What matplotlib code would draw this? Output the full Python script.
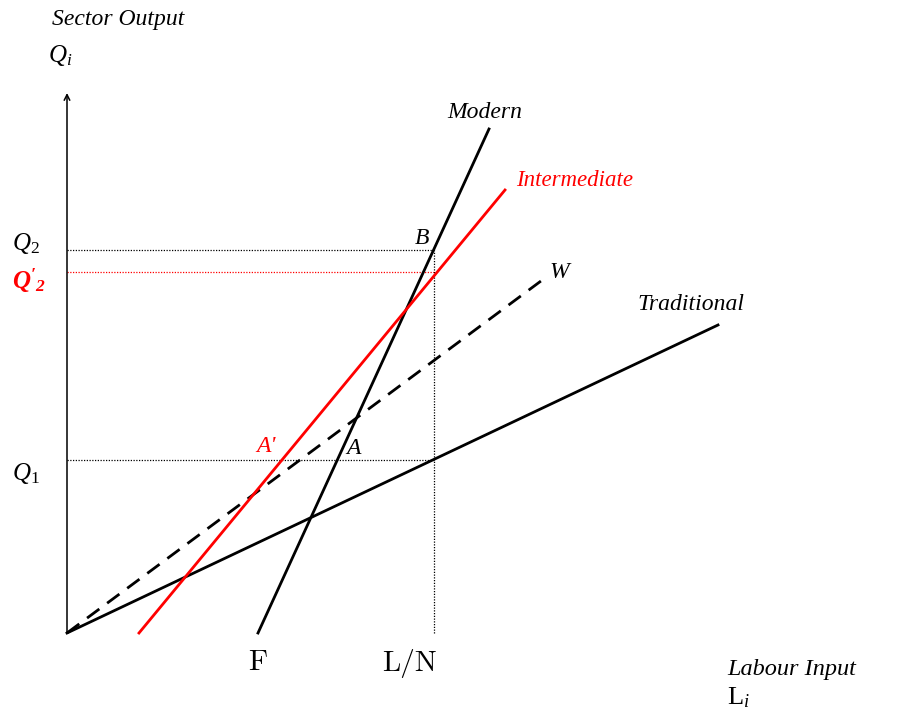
import matplotlib
matplotlib.use("Agg")
import matplotlib.pyplot as plt

plt.rcParams['mathtext.fontset'] = 'custom'
plt.rcParams['mathtext.rm'] = 'Liberation Serif'
plt.rcParams['mathtext.it'] = 'Liberation Serif:italic'
plt.rcParams['mathtext.bf'] = 'Liberation Serif:italic:bold'

# schematic values (output vs labour input), origin at 0
F = 191
LN = 367
Q1 = 173
Q2 = 383
Q2p = 361

trad_x = [0, 651]
trad_y = [0, 308]
w_x = [0, 478]
w_y = [0, 355]
modern_x = [191, 422]
modern_y = [0, 504]
inter_x = [72, 438]
inter_y = [0, 443]

fig = plt.figure(figsize=(9.12, 7.17), dpi=100)
ax = fig.add_axes([0, 0, 1, 1])
ax.set_xlim(-67, 845)
ax.set_ylim(-84, 633)
ax.axis("off")

serif = 'Liberation Serif'

# axes with arrows
ax.annotate("", xy=(0, 540), xytext=(0, 0),
            arrowprops=dict(arrowstyle="->", lw=1.1, color="black", shrinkA=0, shrinkB=0))
ax.annotate("", xy=(846, 0), xytext=(0, 0),
            arrowprops=dict(arrowstyle="->", lw=1.1, color="black", shrinkA=0, shrinkB=0))

# guide lines
ax.plot([0, LN], [Q2, Q2], color="black", lw=0.9, ls=(0, (1, 1.2)))
ax.plot([0, LN], [Q2p, Q2p], color="red", lw=0.9, ls=(0, (1, 1.2)))
ax.plot([0, LN], [Q1, Q1], color="black", lw=0.9, ls=(0, (1, 1.2)))
ax.plot([LN, LN], [0, Q2], color="black", lw=0.9, ls=(0, (1, 1.2)))

# sector lines
ax.plot(trad_x, trad_y, color="black", lw=2)
ax.plot(w_x, w_y, color="black", lw=2, ls=(0, (5.5, 3.5)))
ax.plot(modern_x, modern_y, color="black", lw=2)
ax.plot(inter_x, inter_y, color="red", lw=2)

# labels
ax.text(-15, 613, "Sector Output", family=serif, style="italic", fontsize=17,
        ha="left", va="center")
ax.text(-19, 578, "$Q_i$", fontsize=18, ha="left", va="center")
ax.text(-55, 390, "$Q_{\\mathit{2}}$", fontsize=18, ha="left", va="center")
ax.text(-55, 352, "$\\mathbf{Q'_2}$", fontsize=18, ha="left", va="center", color="red")
ax.text(-55, 160, "$Q_{\\mathit{1}}$", fontsize=18, ha="left", va="center")

ax.text(380, 521, "Modern", family=serif, style="italic", fontsize=17, ha="left", va="center")
ax.text(449, 452, "Intermediate", family=serif, style="italic", fontsize=16.5,
        ha="left", va="center", color="red")
ax.text(570, 328, "Traditional", family=serif, style="italic", fontsize=17,
        ha="left", va="center")
ax.text(482, 361, "W", family=serif, style="italic", fontsize=17, ha="left", va="center")
ax.text(348, 395, "B", family=serif, style="italic", fontsize=17, ha="left", va="center")
ax.text(189, 186, "A'", family=serif, style="italic", fontsize=17, ha="left", va="center",
        color="red")
ax.text(279, 185, "A", family=serif, style="italic", fontsize=17, ha="left", va="center")

ax.text(F, -30, "F", family="cmr10", fontsize=21, ha="center", va="center")
ax.text(343, -30, "L/N", family="cmr10", fontsize=21, ha="center", va="center")

ax.text(660, -36, "Labour Input", family=serif, style="italic", fontsize=17.5,
        ha="left", va="center")
ax.text(660, -64, "$\\mathrm{L}_i$", fontsize=19, ha="left", va="center")

fig.savefig("out.png", dpi=100)
